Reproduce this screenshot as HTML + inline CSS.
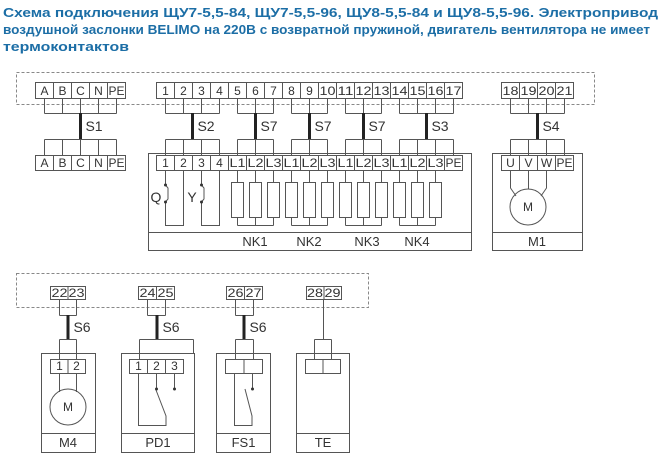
<!DOCTYPE html>
<html><head><meta charset="utf-8"><style>
body{margin:0;background:#fff;width:670px;height:465px;overflow:hidden}
svg{display:block}
.t{font-family:"Liberation Sans",sans-serif;font-size:12px;fill:#333;text-anchor:middle}
.s{font-size:14px}
.b{font-size:13px}
.h{font-family:"Liberation Sans","DejaVu Sans",sans-serif;font-size:13px;font-weight:bold;fill:#1c6ea6}
</style></head><body>
<svg width="670" height="465" viewBox="0 0 670 465">
<text class="h" x="3" y="17" textLength="655" lengthAdjust="spacingAndGlyphs">Схема подключения ЩУ7-5,5-84, ЩУ7-5,5-96, ЩУ8-5,5-84 и  ЩУ8-5,5-96. Электропривод</text>
<text class="h" x="3" y="34" textLength="647" lengthAdjust="spacingAndGlyphs">воздушной заслонки BELIMO на 220В с возвратной пружиной, двигатель вентилятора не имеет</text>
<text class="h" x="3" y="51" textLength="126" lengthAdjust="spacingAndGlyphs">термоконтактов</text>

<g fill="none" stroke="#888" stroke-dasharray="3,2">
<rect x="16.5" y="72.5" width="578" height="32"/>
<rect x="16.5" y="273.5" width="352" height="34"/>
</g>

<g fill="none" stroke="#555" stroke-width="1">
<rect x="35.5" y="82.5" width="90" height="16"/>
<path d="M53.5 82.5v16M71.5 82.5v16M89.5 82.5v16M107.5 82.5v16"/>
<rect x="156.5" y="82.5" width="306" height="16"/>
<path d="M174.5 82.5v16M192.5 82.5v16M210.5 82.5v16M228.5 82.5v16M246.5 82.5v16M264.5 82.5v16M282.5 82.5v16M300.5 82.5v16M318.5 82.5v16M336.5 82.5v16M354.5 82.5v16M372.5 82.5v16M390.5 82.5v16M408.5 82.5v16M426.5 82.5v16M444.5 82.5v16"/>
<rect x="501.5" y="82.5" width="72" height="16"/>
<path d="M519.5 82.5v16M537.5 82.5v16M555.5 82.5v16"/>
<path d="M44.5 98.5v15M62.5 98.5v15M80.5 98.5v15M98.5 98.5v15M116.5 98.5v15M44.5 113.5H116.5"/>
<path d="M165.5 98.5v15M183.5 98.5v15M201.5 98.5v15M219.5 98.5v15M165.5 113.5H219.5"/>
<path d="M237.5 98.5v15M255.5 98.5v15M273.5 98.5v15M237.5 113.5H273.5"/>
<path d="M291.5 98.5v15M309.5 98.5v15M327.5 98.5v15M291.5 113.5H327.5"/>
<path d="M345.5 98.5v15M363.5 98.5v15M381.5 98.5v15M345.5 113.5H381.5"/>
<path d="M399.5 98.5v15M417.5 98.5v15M435.5 98.5v15M453.5 98.5v15M399.5 113.5H453.5"/>
<path d="M510.5 98.5v15M528.5 98.5v15M546.5 98.5v15M564.5 98.5v15M510.5 113.5H564.5"/>
<path d="M44.5 139.5v16M62.5 139.5v16M80.5 139.5v16M98.5 139.5v16M116.5 139.5v16M44.5 139.5H116.5"/>
<path d="M165.5 139.5v16M183.5 139.5v16M201.5 139.5v16M219.5 139.5v16M165.5 139.5H219.5"/>
<path d="M237.5 139.5v16M255.5 139.5v16M273.5 139.5v16M237.5 139.5H273.5"/>
<path d="M291.5 139.5v16M309.5 139.5v16M327.5 139.5v16M291.5 139.5H327.5"/>
<path d="M345.5 139.5v16M363.5 139.5v16M381.5 139.5v16M345.5 139.5H381.5"/>
<path d="M399.5 139.5v16M417.5 139.5v16M435.5 139.5v16M453.5 139.5v16M399.5 139.5H453.5"/>
<path d="M510.5 139.5v16M528.5 139.5v16M546.5 139.5v16M564.5 139.5v16M510.5 139.5H564.5"/>
<rect x="35.5" y="155.5" width="90" height="15"/>
<path d="M53.5 155.5v15M71.5 155.5v15M89.5 155.5v15M107.5 155.5v15"/>
<rect x="156.5" y="155.5" width="306" height="15"/>
<path d="M174.5 155.5v15M192.5 155.5v15M210.5 155.5v15M228.5 155.5v15M246.5 155.5v15M264.5 155.5v15M282.5 155.5v15M300.5 155.5v15M318.5 155.5v15M336.5 155.5v15M354.5 155.5v15M372.5 155.5v15M390.5 155.5v15M408.5 155.5v15M426.5 155.5v15M444.5 155.5v15"/>
<rect x="501.5" y="155.5" width="72" height="15"/>
<path d="M519.5 155.5v15M537.5 155.5v15M555.5 155.5v15"/>
<rect x="148.5" y="153.5" width="323" height="97"/>
<path d="M148.5 232.5H471.5"/>
<path d="M165.5 170.5V185M165.5 202V225.5H183.5V170.5M165.5 185L168 188V199L165.5 202"/>
<path d="M201.5 170.5V185M201.5 202V225.5H219.5V170.5M201.5 185L204 188V199L201.5 202"/>
<path d="M237.5 170.5v12M255.5 170.5v12M273.5 170.5v12M237.5 217.5v8M255.5 217.5v8M273.5 217.5v8M237.5 225.5H273.5"/>
<path d="M291.5 170.5v12M309.5 170.5v12M327.5 170.5v12M291.5 217.5v8M309.5 217.5v8M327.5 217.5v8M291.5 225.5H327.5"/>
<path d="M345.5 170.5v12M363.5 170.5v12M381.5 170.5v12M345.5 217.5v8M363.5 217.5v8M381.5 217.5v8M345.5 225.5H381.5"/>
<path d="M399.5 170.5v12M417.5 170.5v12M435.5 170.5v12M399.5 217.5v8M417.5 217.5v8M435.5 217.5v8M399.5 225.5H435.5"/>
<rect x="231.5" y="182.5" width="12" height="35"/><rect x="249.5" y="182.5" width="12" height="35"/><rect x="267.5" y="182.5" width="12" height="35"/>
<rect x="285.5" y="182.5" width="12" height="35"/><rect x="303.5" y="182.5" width="12" height="35"/><rect x="321.5" y="182.5" width="12" height="35"/>
<rect x="339.5" y="182.5" width="12" height="35"/><rect x="357.5" y="182.5" width="12" height="35"/><rect x="375.5" y="182.5" width="12" height="35"/>
<rect x="393.5" y="182.5" width="12" height="35"/><rect x="411.5" y="182.5" width="12" height="35"/><rect x="429.5" y="182.5" width="12" height="35"/>
<rect x="492.5" y="153.5" width="90" height="97"/>
<path d="M492.5 232.5H582.5"/>
<circle cx="528" cy="207" r="18"/>
<path d="M510.5 170.5V188L516 196M528.5 170.5V189M546.5 170.5V188L541 196"/>

<rect x="50.5" y="286.5" width="35" height="13"/><path d="M68 286.5v13"/>
<rect x="138.5" y="286.5" width="36" height="13"/><path d="M156.5 286.5v13"/>
<rect x="226.5" y="286.5" width="36" height="13"/><path d="M244.5 286.5v13"/>
<rect x="306.5" y="286.5" width="35" height="13"/><path d="M324 286.5v13"/>
<path d="M59.5 299.5v16M76.5 299.5v16M59.5 315.5H76.5"/>
<path d="M147.5 299.5v16M165.5 299.5v16M147.5 315.5H165.5"/>
<path d="M235.5 299.5v16M253.5 299.5v16M235.5 315.5H253.5"/>
<path d="M323.5 299.5V339.5"/>
<path d="M59.5 339.5v20M76.5 339.5v20M59.5 339.5H76.5"/>
<path d="M139.5 339.5v20M193.5 339.5v14M139.5 339.5H193.5"/>
<path d="M235.5 339.5v20M253.5 339.5v20M235.5 339.5H253.5"/>
<path d="M314.5 339.5v20M331.5 339.5v20M314.5 339.5H331.5"/>
<rect x="41.5" y="353.5" width="54" height="99"/><path d="M41.5 433.5H95.5"/>
<rect x="121.5" y="353.5" width="73" height="99"/><path d="M121.5 433.5H194.5"/>
<rect x="216.5" y="353.5" width="54" height="99"/><path d="M216.5 433.5H270.5"/>
<rect x="296.5" y="353.5" width="53" height="99"/><path d="M296.5 433.5H349.5"/>
<rect x="50.5" y="359.5" width="35" height="14"/><path d="M68 359.5v14"/>
<rect x="129.5" y="359.5" width="54" height="14"/><path d="M147.5 359.5v14M165.5 359.5v14"/>
<rect x="225.5" y="359.5" width="37" height="14"/><path d="M244 359.5v14"/>
<rect x="305.5" y="359.5" width="35" height="14"/><path d="M323 359.5v14"/>
<circle cx="68" cy="407" r="18"/>
<path d="M59.5 373.5V392M76.5 373.5V392"/>
<path d="M138.5 373.5V425.5H166V416L156 390M156.5 373.5V389M174.5 373.5V389"/>
<path d="M234.5 373.5V425.5H252V416L245 389M252.5 373.5V389"/>
</g>
<g fill="#333">
<circle cx="165.5" cy="185" r="1.5"/><circle cx="165.5" cy="202" r="1.5"/>
<circle cx="201.5" cy="185" r="1.5"/><circle cx="201.5" cy="202" r="1.5"/>
<circle cx="156.5" cy="389" r="1.5"/><circle cx="174.5" cy="389" r="1.5"/>
<circle cx="252.5" cy="389" r="1.5"/>
</g>
<g stroke="#222" stroke-width="3">
<path d="M80.5 113V139M192.5 113V139M255.5 113V139M309.5 113V139M363.5 113V139M426.5 113V139M537.5 113V139"/>
<path d="M68 315V339M157 315V339M244 315V339"/>
</g>
<g class="t">
<text x="44.5" y="95">A</text><text x="62.5" y="95">B</text><text x="80.5" y="95">C</text><text x="98.5" y="95">N</text><text x="116.5" y="95" textLength="16" lengthAdjust="spacingAndGlyphs">PE</text>
<text x="165.5" y="95">1</text><text x="183.5" y="95">2</text><text x="201.5" y="95">3</text><text x="219.5" y="95">4</text><text x="237.5" y="95">5</text><text x="255.5" y="95">6</text><text x="273.5" y="95">7</text><text x="291.5" y="95">8</text><text x="309.5" y="95">9</text><text x="327.5" y="95" textLength="16" lengthAdjust="spacingAndGlyphs">10</text><text x="345.5" y="95" textLength="16" lengthAdjust="spacingAndGlyphs">11</text><text x="363.5" y="95" textLength="16" lengthAdjust="spacingAndGlyphs">12</text><text x="381.5" y="95" textLength="16" lengthAdjust="spacingAndGlyphs">13</text><text x="399.5" y="95" textLength="16" lengthAdjust="spacingAndGlyphs">14</text><text x="417.5" y="95" textLength="16" lengthAdjust="spacingAndGlyphs">15</text><text x="435.5" y="95" textLength="16" lengthAdjust="spacingAndGlyphs">16</text><text x="453.5" y="95" textLength="16" lengthAdjust="spacingAndGlyphs">17</text>
<text x="510.5" y="95" textLength="16" lengthAdjust="spacingAndGlyphs">18</text><text x="528.5" y="95" textLength="16" lengthAdjust="spacingAndGlyphs">19</text><text x="546.5" y="95" textLength="16" lengthAdjust="spacingAndGlyphs">20</text><text x="564.5" y="95" textLength="16" lengthAdjust="spacingAndGlyphs">21</text>
<text x="44.5" y="167">A</text><text x="62.5" y="167">B</text><text x="80.5" y="167">C</text><text x="98.5" y="167">N</text><text x="116.5" y="167" textLength="16" lengthAdjust="spacingAndGlyphs">PE</text>
<text x="165.5" y="167">1</text><text x="183.5" y="167">2</text><text x="201.5" y="167">3</text><text x="219.5" y="167">4</text>
<text x="237.5" y="167" textLength="16" lengthAdjust="spacingAndGlyphs">L1</text><text x="255.5" y="167" textLength="16" lengthAdjust="spacingAndGlyphs">L2</text><text x="273.5" y="167" textLength="16" lengthAdjust="spacingAndGlyphs">L3</text>
<text x="291.5" y="167" textLength="16" lengthAdjust="spacingAndGlyphs">L1</text><text x="309.5" y="167" textLength="16" lengthAdjust="spacingAndGlyphs">L2</text><text x="327.5" y="167" textLength="16" lengthAdjust="spacingAndGlyphs">L3</text>
<text x="345.5" y="167" textLength="16" lengthAdjust="spacingAndGlyphs">L1</text><text x="363.5" y="167" textLength="16" lengthAdjust="spacingAndGlyphs">L2</text><text x="381.5" y="167" textLength="16" lengthAdjust="spacingAndGlyphs">L3</text>
<text x="399.5" y="167" textLength="16" lengthAdjust="spacingAndGlyphs">L1</text><text x="417.5" y="167" textLength="16" lengthAdjust="spacingAndGlyphs">L2</text><text x="435.5" y="167" textLength="16" lengthAdjust="spacingAndGlyphs">L3</text><text x="453.5" y="167" textLength="16" lengthAdjust="spacingAndGlyphs">PE</text>
<text x="510.5" y="167">U</text><text x="528.5" y="167">V</text><text x="546.5" y="167">W</text><text x="564.5" y="167" textLength="16" lengthAdjust="spacingAndGlyphs">PE</text>
<text class="s" x="94" y="131">S1</text><text class="s" x="206" y="131">S2</text><text class="s" x="269" y="131">S7</text><text class="s" x="323" y="131">S7</text><text class="s" x="377" y="131">S7</text><text class="s" x="440" y="131">S3</text><text class="s" x="551" y="131">S4</text>
<text class="s" x="156" y="202">Q</text><text class="s" x="192" y="202">Y</text>
<text class="b" x="255" y="246">NK1</text><text class="b" x="309" y="246">NK2</text><text class="b" x="367" y="246">NK3</text><text class="b" x="417" y="246">NK4</text>
<text x="528" y="211">M</text><text class="b" x="537" y="246">M1</text>
<text x="59.5" y="297" textLength="16" lengthAdjust="spacingAndGlyphs">22</text><text x="76.5" y="297" textLength="16" lengthAdjust="spacingAndGlyphs">23</text><text x="147.5" y="297" textLength="16" lengthAdjust="spacingAndGlyphs">24</text><text x="165.5" y="297" textLength="16" lengthAdjust="spacingAndGlyphs">25</text><text x="235.5" y="297" textLength="16" lengthAdjust="spacingAndGlyphs">26</text><text x="253.5" y="297" textLength="16" lengthAdjust="spacingAndGlyphs">27</text><text x="315" y="297" textLength="16" lengthAdjust="spacingAndGlyphs">28</text><text x="332.5" y="297" textLength="16" lengthAdjust="spacingAndGlyphs">29</text>
<text class="s" x="82" y="332">S6</text><text class="s" x="171" y="332">S6</text><text class="s" x="258" y="332">S6</text>
<text x="59.5" y="370">1</text><text x="76.5" y="370">2</text>
<text x="138.5" y="370">1</text><text x="156.5" y="370">2</text><text x="174.5" y="370">3</text>
<text x="68" y="411">M</text>
<text class="b" x="68" y="447">M4</text><text class="b" x="158" y="447">PD1</text><text class="b" x="243.5" y="447">FS1</text><text class="b" x="323" y="447">TE</text>
</g>
</svg>
</body></html>
